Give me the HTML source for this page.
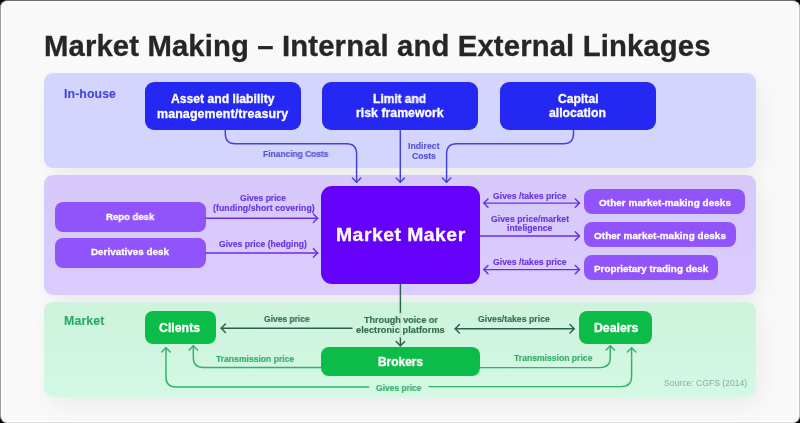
<!DOCTYPE html>
<html><head><meta charset="utf-8"><style>
html,body{margin:0;padding:0;}
body{width:800px;height:423px;background:#000;position:relative;overflow:hidden;font-family:"Liberation Sans",sans-serif;}
.card{position:absolute;left:0;top:0;width:798px;height:421px;background:#f9f9f9;border-radius:7px;border-style:solid;border-width:1px;border-color:#6c6c6c #c4c4c4 #dcdcdc #9a9a9a;box-shadow:inset 0 0 0 1px #fff;}
.p{box-shadow:5px 8px 22px rgba(0,0,0,0.055);}
.b{position:absolute;}
.t{position:absolute;white-space:nowrap;will-change:transform;}
svg{position:absolute;left:0;top:0;}
</style></head><body>
<div class="card"></div>
<div class="p" style="position:absolute;left:44px;top:73px;width:712.00px;height:95.00px;background:#d4d5fe;border-radius:9px"></div>
<div class="p" style="position:absolute;left:44px;top:175px;width:712.00px;height:119.50px;background:linear-gradient(#d6c9fa,#dacdfe);border-radius:9px"></div>
<div class="p" style="position:absolute;left:44px;top:301.5px;width:712.00px;height:95.00px;background:linear-gradient(#cdf3dd,#d3f8e3);border-radius:9px"></div>
<div class="b" style="position:absolute;left:144.6px;top:82px;width:156.00px;height:47.60px;background:#2428f2;border-radius:9px"></div>
<div class="b" style="position:absolute;left:322px;top:82px;width:156.00px;height:47.60px;background:#2428f2;border-radius:9px"></div>
<div class="b" style="position:absolute;left:500.3px;top:82px;width:156.00px;height:47.60px;background:#2428f2;border-radius:9px"></div>
<div class="b" style="position:absolute;left:321px;top:186px;width:159.00px;height:98.00px;background:#6500fb;border-radius:11px"></div>
<div class="b" style="position:absolute;left:54.85px;top:201.6px;width:150.75px;height:30.00px;background:#9054fa;border-radius:8px"></div>
<div class="b" style="position:absolute;left:54.85px;top:238px;width:150.75px;height:30.00px;background:#9054fa;border-radius:8px"></div>
<div class="b" style="position:absolute;left:584.2px;top:189px;width:161.30px;height:25.00px;background:#9054fa;border-radius:8px"></div>
<div class="b" style="position:absolute;left:584.2px;top:222.3px;width:151.80px;height:24.70px;background:#9054fa;border-radius:8px"></div>
<div class="b" style="position:absolute;left:584.2px;top:255.3px;width:133.80px;height:25.20px;background:#9054fa;border-radius:8px"></div>
<div class="b" style="position:absolute;left:144.9px;top:310.6px;width:71.00px;height:33.60px;background:#0bbd48;border-radius:8px"></div>
<div class="b" style="position:absolute;left:578.9px;top:310.6px;width:73.40px;height:33.60px;background:#0bbd48;border-radius:8px"></div>
<div class="b" style="position:absolute;left:320.9px;top:347px;width:159.10px;height:28.60px;background:#0bbd48;border-radius:8px"></div>
<svg width="800" height="423" viewBox="0 0 800 423">
<path d="M225.3,129.6 V133.8 Q225.3,143.8 235.3,143.8 H346.6 Q356.6,143.8 356.6,153.8 V182.3" stroke="#4441d6" stroke-width="1.45" fill="none" stroke-linecap="round" stroke-linejoin="round"/>
<path d="M352.40000000000003,178.10000000000002 L356.6,182.3 L360.8,178.10000000000002" stroke="#4441d6" stroke-width="1.45" fill="none" stroke-linecap="round" stroke-linejoin="round"/>
<path d="M400.3,129.6 V182.3" stroke="#4441d6" stroke-width="1.45" fill="none" stroke-linecap="round" stroke-linejoin="round"/>
<path d="M396.1,178.10000000000002 L400.3,182.3 L404.5,178.10000000000002" stroke="#4441d6" stroke-width="1.45" fill="none" stroke-linecap="round" stroke-linejoin="round"/>
<path d="M573.5,129.6 V133.8 Q573.5,143.8 563.5,143.8 H456.6 Q446.6,143.8 446.6,153.8 V182.3" stroke="#4441d6" stroke-width="1.45" fill="none" stroke-linecap="round" stroke-linejoin="round"/>
<path d="M442.40000000000003,178.10000000000002 L446.6,182.3 L450.8,178.10000000000002" stroke="#4441d6" stroke-width="1.45" fill="none" stroke-linecap="round" stroke-linejoin="round"/>
<path d="M205.6,218.2 H317.6" stroke="#6a2ee6" stroke-width="1.45" fill="none" stroke-linecap="round" stroke-linejoin="round"/>
<path d="M313.40000000000003,214.0 L317.6,218.2 L313.40000000000003,222.39999999999998" stroke="#6a2ee6" stroke-width="1.45" fill="none" stroke-linecap="round" stroke-linejoin="round"/>
<path d="M205.6,253 H317.6" stroke="#6a2ee6" stroke-width="1.45" fill="none" stroke-linecap="round" stroke-linejoin="round"/>
<path d="M313.40000000000003,248.8 L317.6,253 L313.40000000000003,257.2" stroke="#6a2ee6" stroke-width="1.45" fill="none" stroke-linecap="round" stroke-linejoin="round"/>
<path d="M483.8,203.1 H579.5" stroke="#6a2ee6" stroke-width="1.45" fill="none" stroke-linecap="round" stroke-linejoin="round"/>
<path d="M488.0,198.9 L483.8,203.1 L488.0,207.29999999999998" stroke="#6a2ee6" stroke-width="1.45" fill="none" stroke-linecap="round" stroke-linejoin="round"/>
<path d="M575.3,198.9 L579.5,203.1 L575.3,207.29999999999998" stroke="#6a2ee6" stroke-width="1.45" fill="none" stroke-linecap="round" stroke-linejoin="round"/>
<path d="M480,236 H579.5" stroke="#6a2ee6" stroke-width="1.45" fill="none" stroke-linecap="round" stroke-linejoin="round"/>
<path d="M575.3,231.8 L579.5,236 L575.3,240.2" stroke="#6a2ee6" stroke-width="1.45" fill="none" stroke-linecap="round" stroke-linejoin="round"/>
<path d="M483.8,269.6 H579.5" stroke="#6a2ee6" stroke-width="1.45" fill="none" stroke-linecap="round" stroke-linejoin="round"/>
<path d="M488.0,265.40000000000003 L483.8,269.6 L488.0,273.8" stroke="#6a2ee6" stroke-width="1.45" fill="none" stroke-linecap="round" stroke-linejoin="round"/>
<path d="M575.3,265.40000000000003 L579.5,269.6 L575.3,273.8" stroke="#6a2ee6" stroke-width="1.45" fill="none" stroke-linecap="round" stroke-linejoin="round"/>
<path d="M400.4,284 V313.5" stroke="#2b6047" stroke-width="1.45" fill="none" stroke-linecap="round" stroke-linejoin="round"/>
<path d="M400.4,337 V345.8" stroke="#2b6047" stroke-width="1.45" fill="none" stroke-linecap="round" stroke-linejoin="round"/>
<path d="M400.4,313.5 V337" stroke="#c3e3cf" stroke-width="1.45" fill="none" stroke-linecap="round" stroke-linejoin="round"/>
<path d="M396.2,341.6 L400.4,345.8 L404.59999999999997,341.6" stroke="#2b6047" stroke-width="1.45" fill="none" stroke-linecap="round" stroke-linejoin="round"/>
<path d="M221.2,328.3 H352" stroke="#2b6047" stroke-width="1.45" fill="none" stroke-linecap="round" stroke-linejoin="round"/>
<path d="M225.39999999999998,324.1 L221.2,328.3 L225.39999999999998,332.5" stroke="#2b6047" stroke-width="1.45" fill="none" stroke-linecap="round" stroke-linejoin="round"/>
<path d="M455.2,328.7 H574.2" stroke="#2b6047" stroke-width="1.45" fill="none" stroke-linecap="round" stroke-linejoin="round"/>
<path d="M459.4,324.5 L455.2,328.7 L459.4,332.9" stroke="#2b6047" stroke-width="1.45" fill="none" stroke-linecap="round" stroke-linejoin="round"/>
<path d="M570.0,324.5 L574.2,328.7 L570.0,332.9" stroke="#2b6047" stroke-width="1.45" fill="none" stroke-linecap="round" stroke-linejoin="round"/>
<path d="M320.9,367.4 H203.3 Q193.3,367.4 193.3,357.4 V345.8" stroke="#37b06a" stroke-width="1.45" fill="none" stroke-linecap="round" stroke-linejoin="round"/>
<path d="M189.10000000000002,350.0 L193.3,345.8 L197.5,350.0" stroke="#37b06a" stroke-width="1.45" fill="none" stroke-linecap="round" stroke-linejoin="round"/>
<path d="M368.7,387 H176 Q166,387 166,377 V347.8" stroke="#37b06a" stroke-width="1.45" fill="none" stroke-linecap="round" stroke-linejoin="round"/>
<path d="M161.8,352.0 L166,347.8 L170.2,352.0" stroke="#37b06a" stroke-width="1.45" fill="none" stroke-linecap="round" stroke-linejoin="round"/>
<path d="M480,367.6 H600.3 Q610.3,367.6 610.3,357.6 V345.8" stroke="#37b06a" stroke-width="1.45" fill="none" stroke-linecap="round" stroke-linejoin="round"/>
<path d="M606.0999999999999,350.0 L610.3,345.8 L614.5,350.0" stroke="#37b06a" stroke-width="1.45" fill="none" stroke-linecap="round" stroke-linejoin="round"/>
<path d="M429,386.6 H621.6 Q631.6,386.6 631.6,376.6 V347.8" stroke="#37b06a" stroke-width="1.45" fill="none" stroke-linecap="round" stroke-linejoin="round"/>
<path d="M627.4,352.0 L631.6,347.8 L635.8000000000001,352.0" stroke="#37b06a" stroke-width="1.45" fill="none" stroke-linecap="round" stroke-linejoin="round"/>
</svg>
<div class="t" style="left:44.00px;top:30px;font-size:29px;line-height:32px;letter-spacing:0.134px;transform:scaleX(1.0093);transform-origin:0 0;color:#262626;font-weight:700;-webkit-text-stroke:0.3px #262626;">Market Making – Internal and External Linkages</div>
<div class="t" style="left:64.00px;top:87px;font-size:12.2px;line-height:14px;letter-spacing:0.085px;transform:scaleX(1.0118);transform-origin:0 0;color:#4644d8;font-weight:700;-webkit-text-stroke:0.3px #4644d8;-webkit-text-stroke:0.1px #4644d8">In-house</div>
<div class="t" style="left:170.50px;top:92px;font-size:12.2px;line-height:14px;letter-spacing:-0.006px;transform:scaleX(0.9990);transform-origin:0 0;color:#fff;font-weight:700;-webkit-text-stroke:0.3px #fff;">Asset and liability</div>
<div class="t" style="left:156.80px;top:107px;font-size:12.2px;line-height:14px;letter-spacing:0.120px;transform:scaleX(1.0174);transform-origin:0 0;color:#fff;font-weight:700;-webkit-text-stroke:0.3px #fff;">management/treasury</div>
<div class="t" style="left:372.50px;top:92px;font-size:12.2px;line-height:14px;letter-spacing:-0.069px;transform:scaleX(0.9899);transform-origin:0 0;color:#fff;font-weight:700;-webkit-text-stroke:0.3px #fff;">Limit and</div>
<div class="t" style="left:356.25px;top:106px;font-size:12.2px;line-height:14px;letter-spacing:0.036px;transform:scaleX(1.0055);transform-origin:0 0;color:#fff;font-weight:700;-webkit-text-stroke:0.3px #fff;">risk framework</div>
<div class="t" style="left:557.50px;top:92px;font-size:12.2px;line-height:14px;letter-spacing:-0.017px;transform:scaleX(0.9975);transform-origin:0 0;color:#fff;font-weight:700;-webkit-text-stroke:0.3px #fff;">Capital</div>
<div class="t" style="left:549.40px;top:106px;font-size:12.2px;line-height:14px;letter-spacing:-0.003px;transform:scaleX(0.9996);transform-origin:0 0;color:#fff;font-weight:700;-webkit-text-stroke:0.3px #fff;">allocation</div>
<div class="t" style="left:263.40px;top:149px;font-size:8.6px;line-height:10px;letter-spacing:-0.051px;transform:scaleX(0.9895);transform-origin:0 0;color:#5550d6;font-weight:700;-webkit-text-stroke:0.15px #5550d6;">Financing Costs</div>
<div class="t" style="left:408.10px;top:141px;font-size:8.6px;line-height:10px;letter-spacing:0.035px;transform:scaleX(1.0080);transform-origin:0 0;color:#5550d6;font-weight:700;-webkit-text-stroke:0.15px #5550d6;">Indirect</div>
<div class="t" style="left:411.90px;top:151px;font-size:8.6px;line-height:10px;letter-spacing:-0.013px;transform:scaleX(0.9979);transform-origin:0 0;color:#5550d6;font-weight:700;-webkit-text-stroke:0.15px #5550d6;">Costs</div>
<div class="t" style="left:335.80px;top:224px;font-size:18.5px;line-height:21px;letter-spacing:0.474px;transform:scaleX(1.0461);transform-origin:0 0;color:#fff;font-weight:700;-webkit-text-stroke:0.3px #fff;">Market Maker</div>
<div class="t" style="left:106.00px;top:211px;font-size:9.8px;line-height:11px;letter-spacing:-0.089px;transform:scaleX(0.9859);transform-origin:0 0;color:#fff;font-weight:700;-webkit-text-stroke:0.3px #fff;">Repo desk</div>
<div class="t" style="left:91.00px;top:246px;font-size:9.8px;line-height:11px;letter-spacing:0.020px;transform:scaleX(1.0039);transform-origin:0 0;color:#fff;font-weight:700;-webkit-text-stroke:0.3px #fff;">Derivatives desk</div>
<div class="t" style="left:240.10px;top:193px;font-size:8.6px;line-height:10px;letter-spacing:-0.025px;transform:scaleX(0.9946);transform-origin:0 0;color:#6a34dc;font-weight:700;-webkit-text-stroke:0.15px #6a34dc;">Gives price</div>
<div class="t" style="left:212.50px;top:203px;font-size:8.6px;line-height:10px;letter-spacing:0.052px;transform:scaleX(1.0121);transform-origin:0 0;color:#6a34dc;font-weight:700;-webkit-text-stroke:0.15px #6a34dc;">(funding/short covering)</div>
<div class="t" style="left:219.00px;top:239px;font-size:8.6px;line-height:10px;letter-spacing:-0.003px;transform:scaleX(0.9994);transform-origin:0 0;color:#6a34dc;font-weight:700;-webkit-text-stroke:0.15px #6a34dc;">Gives price (hedging)</div>
<div class="t" style="left:492.60px;top:191px;font-size:8.6px;line-height:10px;letter-spacing:0.015px;transform:scaleX(1.0034);transform-origin:0 0;color:#6a34dc;font-weight:700;-webkit-text-stroke:0.15px #6a34dc;">Gives /takes price</div>
<div class="t" style="left:490.80px;top:214px;font-size:8.6px;line-height:10px;letter-spacing:0.035px;transform:scaleX(1.0078);transform-origin:0 0;color:#6a34dc;font-weight:700;-webkit-text-stroke:0.15px #6a34dc;">Gives price/market</div>
<div class="t" style="left:506.70px;top:223px;font-size:8.6px;line-height:10px;letter-spacing:0.020px;transform:scaleX(1.0045);transform-origin:0 0;color:#6a34dc;font-weight:700;-webkit-text-stroke:0.15px #6a34dc;">inteligence</div>
<div class="t" style="left:492.60px;top:257px;font-size:8.6px;line-height:10px;letter-spacing:0.015px;transform:scaleX(1.0034);transform-origin:0 0;color:#6a34dc;font-weight:700;-webkit-text-stroke:0.15px #6a34dc;">Gives /takes price</div>
<div class="t" style="left:599.00px;top:197px;font-size:9.8px;line-height:11px;letter-spacing:0.060px;transform:scaleX(1.0112);transform-origin:0 0;color:#fff;font-weight:700;-webkit-text-stroke:0.3px #fff;">Other market-making desks</div>
<div class="t" style="left:594.00px;top:230px;font-size:9.8px;line-height:11px;letter-spacing:0.060px;transform:scaleX(1.0112);transform-origin:0 0;color:#fff;font-weight:700;-webkit-text-stroke:0.3px #fff;">Other market-making desks</div>
<div class="t" style="left:594.00px;top:263px;font-size:9.8px;line-height:11px;letter-spacing:0.019px;transform:scaleX(1.0040);transform-origin:0 0;color:#fff;font-weight:700;-webkit-text-stroke:0.3px #fff;">Proprietary trading desk</div>
<div class="t" style="left:64.00px;top:314px;font-size:12.2px;line-height:14px;letter-spacing:0.118px;transform:scaleX(1.0153);transform-origin:0 0;color:#28aa63;font-weight:700;-webkit-text-stroke:0.3px #28aa63;-webkit-text-stroke:0.1px #28aa63">Market</div>
<div class="t" style="left:159.40px;top:321px;font-size:12.3px;line-height:14px;letter-spacing:0.008px;transform:scaleX(1.0012);transform-origin:0 0;color:#fff;font-weight:700;-webkit-text-stroke:0.3px #fff;">Clients</div>
<div class="t" style="left:263.65px;top:314px;font-size:8.6px;line-height:10px;letter-spacing:-0.043px;transform:scaleX(0.9908);transform-origin:0 0;color:#306c4c;font-weight:700;-webkit-text-stroke:0.15px #306c4c;">Gives price</div>
<div class="t" style="left:363.70px;top:315px;font-size:9.1px;line-height:10px;letter-spacing:-0.017px;transform:scaleX(0.9966);transform-origin:0 0;color:#306c4c;font-weight:700;-webkit-text-stroke:0.15px #306c4c;">Through voice or</div>
<div class="t" style="left:355.70px;top:325px;font-size:9.1px;line-height:10px;letter-spacing:0.047px;transform:scaleX(1.0103);transform-origin:0 0;color:#306c4c;font-weight:700;-webkit-text-stroke:0.15px #306c4c;">electronic platforms</div>
<div class="t" style="left:478.35px;top:314px;font-size:8.6px;line-height:10px;letter-spacing:0.036px;transform:scaleX(1.0081);transform-origin:0 0;color:#306c4c;font-weight:700;-webkit-text-stroke:0.15px #306c4c;">Gives/takes price</div>
<div class="t" style="left:593.80px;top:321px;font-size:12.3px;line-height:14px;letter-spacing:-0.017px;transform:scaleX(0.9977);transform-origin:0 0;color:#fff;font-weight:700;-webkit-text-stroke:0.3px #fff;">Dealers</div>
<div class="t" style="left:215.90px;top:354px;font-size:8.6px;line-height:10px;letter-spacing:-0.009px;transform:scaleX(0.9981);transform-origin:0 0;color:#35ab66;font-weight:700;-webkit-text-stroke:0.15px #35ab66;">Transmission price</div>
<div class="t" style="left:513.50px;top:353px;font-size:8.6px;line-height:10px;letter-spacing:0.003px;transform:scaleX(1.0006);transform-origin:0 0;color:#35ab66;font-weight:700;-webkit-text-stroke:0.15px #35ab66;">Transmission price</div>
<div class="t" style="left:377.80px;top:355px;font-size:12.0px;line-height:14px;letter-spacing:-0.042px;transform:scaleX(0.9945);transform-origin:0 0;color:#fff;font-weight:700;-webkit-text-stroke:0.3px #fff;">Brokers</div>
<div class="t" style="left:376.00px;top:383px;font-size:8.6px;line-height:10px;letter-spacing:-0.045px;transform:scaleX(0.9903);transform-origin:0 0;color:#35ab66;font-weight:700;-webkit-text-stroke:0.15px #35ab66;">Gives price</div>
<div class="t" style="left:663.75px;top:378px;font-size:8.6px;line-height:10px;letter-spacing:0.001px;transform:scaleX(1.0003);transform-origin:0 0;color:#8cab97;font-weight:400;-webkit-text-stroke:0px #8cab97;">Source: CGFS (2014)</div>
</body></html>
